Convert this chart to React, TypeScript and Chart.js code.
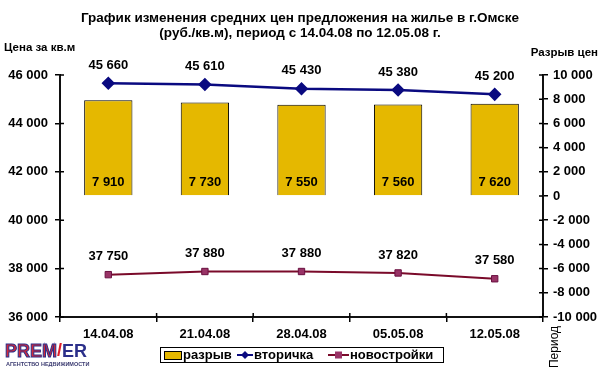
import React, { useEffect, useRef } from "react";
import { Chart, registerables } from "chart.js";
Chart.register(...registerables);

const categories = ["14.04.08", "21.04.08", "28.04.08", "05.05.08", "12.05.08"];
const gapValues = [7910, 7730, 7550, 7560, 7620];
const secondaryValues = [45660, 45610, 45430, 45380, 45200];
const newBuildValues = [37750, 37880, 37880, 37820, 37580];
const seriesNames = ["разрыв", "вторичка", "новостройки"];
const titleLines = [
  "График изменения средних цен предложения на жилье в г.Омске",
  "(руб./кв.м), период с 14.04.08 по 12.05.08 г.",
];
const leftAxisTitle = "Цена за кв.м";
const rightAxisTitle = "Разрыв цен";
const xAxisTitle = "Период";

const FONT = "Liberation Sans";
const BAR_COLOR = "#E5B800";
const BLUE = "#0A0A80";
const PINK_LINE = "#7A0A2A";
const PINK_MARK = "#993366";

function fmt(n: number): string {
  const s = String(Math.abs(n)).replace(/\B(?=(\d{3})+(?!\d))/g, " ");
  return n < 0 ? "-" + s : s;
}

const decorPlugin = {
  id: "decor",
  afterDatasetsDraw(chart: any) {
    const ctx = chart.ctx as CanvasRenderingContext2D;
    ctx.save();
    ctx.fillStyle = "#000";
    ctx.textAlign = "center";
    ctx.textBaseline = "middle";
    ctx.font = `bold 13px "${FONT}"`;
    const barMeta = chart.getDatasetMeta(0);
    barMeta.data.forEach((el: any, i: number) => {
      ctx.fillText(fmt(gapValues[i]), el.x, el.base - 13);
    });
    const m1 = chart.getDatasetMeta(1);
    m1.data.forEach((el: any, i: number) => {
      ctx.fillText(fmt(secondaryValues[i]), el.x, el.y - 18);
    });
    const m2 = chart.getDatasetMeta(2);
    m2.data.forEach((el: any, i: number) => {
      ctx.fillText(fmt(newBuildValues[i]), el.x, el.y - 18);
    });
    ctx.restore();
  },
  afterDraw(chart: any) {
    const ctx = chart.ctx as CanvasRenderingContext2D;
    const area = chart.chartArea;
    ctx.save();
    // inward halves of tick marks (Excel "cross" ticks)
    ctx.strokeStyle = "#000";
    ctx.lineWidth = 1.5;
    const sy = chart.scales.y, sy2 = chart.scales.y2, sx = chart.scales.x;
    ctx.beginPath();
    sy.ticks.forEach((_t: any, i: number) => {
      const p = sy.getPixelForTick(i);
      ctx.moveTo(area.left, p); ctx.lineTo(area.left + 4, p);
    });
    sy2.ticks.forEach((_t: any, i: number) => {
      const p = sy2.getPixelForTick(i);
      ctx.moveTo(area.right, p); ctx.lineTo(area.right - 4, p);
    });
    for (let i = 0; i <= categories.length; i++) {
      const p = i < categories.length
        ? sx.getPixelForTick(i) - (sx.getPixelForTick(1) - sx.getPixelForTick(0)) / 2
        : sx.getPixelForTick(i - 1) + (sx.getPixelForTick(1) - sx.getPixelForTick(0)) / 2;
      ctx.moveTo(p, area.bottom); ctx.lineTo(p, area.bottom - 4);
    }
    ctx.stroke();

    ctx.fillStyle = "#000";
    ctx.textBaseline = "middle";
    // title
    ctx.textAlign = "center";
    ctx.font = `bold 13.5px "${FONT}"`;
    ctx.fillText(titleLines[0], 300, 18);
    ctx.fillText(titleLines[1], 300, 33);
    // axis titles
    ctx.font = `bold 11.5px "${FONT}"`;
    ctx.textAlign = "left";
    ctx.fillText(leftAxisTitle, 4, 48);
    ctx.textAlign = "right";
    ctx.fillText(rightAxisTitle, 598, 53);
    // x axis title rotated
    ctx.save();
    ctx.translate(555, 347);
    ctx.rotate(-Math.PI / 2);
    ctx.textAlign = "center";
    ctx.font = `12px "${FONT}"`;
    ctx.fillText(xAxisTitle, 0, 0);
    ctx.restore();

    // legend
    const lx = 160, ly = 347, lw = 283, lh = 15;
    ctx.fillStyle = "#fff";
    ctx.fillRect(lx, ly, lw, lh);
    ctx.strokeStyle = "#000";
    ctx.lineWidth = 1;
    ctx.strokeRect(lx + 0.5, ly + 0.5, lw, lh);
    const cy = ly + lh / 2 + 0.5;
    ctx.fillStyle = BAR_COLOR;
    ctx.fillRect(164, cy - 4, 17, 8);
    ctx.strokeRect(164.5, cy - 3.5, 17, 8);
    ctx.fillStyle = "#000";
    ctx.font = `bold 13px "${FONT}"`;
    ctx.textAlign = "left";
    ctx.fillText(seriesNames[0], 183, cy);
    ctx.strokeStyle = BLUE;
    ctx.lineWidth = 2;
    ctx.beginPath();
    ctx.moveTo(237, cy);
    ctx.lineTo(253, cy);
    ctx.stroke();
    ctx.fillStyle = BLUE;
    ctx.beginPath();
    ctx.moveTo(245, cy - 4);
    ctx.lineTo(249, cy);
    ctx.lineTo(245, cy + 4);
    ctx.lineTo(241, cy);
    ctx.closePath();
    ctx.fill();
    ctx.fillStyle = "#000";
    ctx.fillText(seriesNames[1], 254, cy);
    ctx.strokeStyle = PINK_LINE;
    ctx.beginPath();
    ctx.moveTo(328, cy);
    ctx.lineTo(349, cy);
    ctx.stroke();
    ctx.fillStyle = PINK_MARK;
    ctx.fillRect(335, cy - 3.5, 7, 7);
    ctx.fillStyle = "#000";
    ctx.fillText(seriesNames[2], 350, cy);

    // logo
    ctx.textAlign = "left";
    ctx.font = `bold 18px "${FONT}"`;
    ctx.fillStyle = "#D02A3A";
    ctx.strokeStyle = "#2B2F8A";
    ctx.lineWidth = 1;
    ctx.fillText("PREM", 5, 352);
    ctx.strokeText("PREM", 5, 352);
    const w1 = ctx.measureText("PREM").width;
    ctx.fillStyle = "#E0202A";
    ctx.fillText("/", 5 + w1, 351);
    const w2 = ctx.measureText("/").width;
    ctx.fillStyle = "#2B2F8A";
    ctx.fillText("ER", 5 + w1 + w2, 352);
    ctx.font = `bold 5.5px "${FONT}"`;
    ctx.fillStyle = "#3A3A70";
    ctx.fillText("АГЕНТСТВО НЕДВИЖИМОСТИ", 6, 364);
    ctx.restore();
  },
};

export default function App() {
  const ref = useRef<HTMLCanvasElement | null>(null);
  useEffect(() => {
    if (!ref.current) return;
    const tickFont = { family: FONT, size: 13, weight: "bold" as const };
    const chart = new Chart(ref.current, {
      type: "bar",
      data: {
        labels: categories,
        datasets: [
          {
            type: "bar",
            label: seriesNames[0],
            data: gapValues,
            yAxisID: "y2",
            backgroundColor: BAR_COLOR,
            borderColor: "#000",
            borderWidth: 1,
            barPercentage: 0.5,
            categoryPercentage: 1,
            order: 3,
          },
          {
            type: "line",
            label: seriesNames[1],
            data: secondaryValues,
            yAxisID: "y",
            borderColor: BLUE,
            borderWidth: 2.5,
            pointStyle: "rectRot",
            pointRadius: 5,
            pointBackgroundColor: BLUE,
            pointBorderColor: BLUE,
            tension: 0,
            order: 1,
          },
          {
            type: "line",
            label: seriesNames[2],
            data: newBuildValues,
            yAxisID: "y",
            borderColor: PINK_LINE,
            borderWidth: 2,
            pointStyle: "rect",
            pointRadius: 4.5,
            pointBackgroundColor: PINK_MARK,
            pointBorderColor: "#6A1040",
            pointBorderWidth: 1,
            tension: 0,
            order: 2,
          },
        ],
      },
      options: {
        animation: false,
        responsive: false,
        layout: { padding: { top: 75, left: 0, right: 0, bottom: 0 } },
        plugins: { legend: { display: false }, tooltip: { enabled: false }, title: { display: false } },
        scales: {
          x: {
            offset: true,
            grid: { offset: true, drawOnChartArea: false, tickLength: 5, color: "#000", lineWidth: 1.5 },
            border: { color: "#111", width: 2 },
            ticks: { font: tickFont, color: "#000", padding: 5, maxRotation: 0 },
            afterFit: (s: any) => { s.height = 53; },
          },
          y: {
            position: "left",
            min: 36000,
            max: 46000,
            grid: { drawOnChartArea: false, tickLength: 5, color: "#000", lineWidth: 1.5 },
            border: { color: "#111", width: 2 },
            ticks: { stepSize: 2000, font: tickFont, color: "#000", padding: 7, callback: (v: any) => fmt(Number(v)) },
            afterFit: (s: any) => { s.width = 60; },
          },
          y2: {
            position: "right",
            min: -10000,
            max: 10000,
            grid: { drawOnChartArea: false, tickLength: 5, color: "#000", lineWidth: 1.5 },
            border: { color: "#111", width: 2 },
            ticks: { stepSize: 2000, font: tickFont, color: "#000", padding: 5, callback: (v: any) => fmt(Number(v)) },
            afterFit: (s: any) => { s.width = 57; },
          },
        },
      },
      plugins: [decorPlugin],
    });
    return () => chart.destroy();
  }, []);
  return (
    <div style={{ position: "fixed", left: 0, top: 0, width: 600, height: 370, background: "#fff" }}>
      <canvas ref={ref} width={600} height={370} style={{ width: 600, height: 370, display: "block" }} />
    </div>
  );
}
